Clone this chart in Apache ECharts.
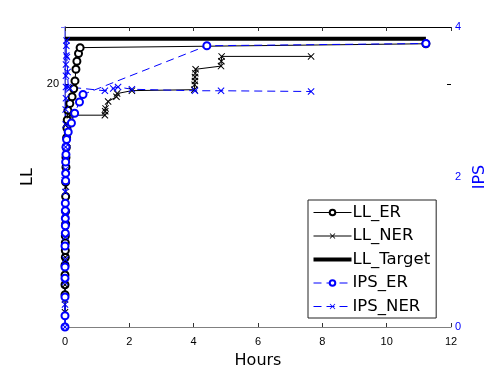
<!DOCTYPE html>
<html>
<head>
<meta charset="utf-8">
<script src="https://cdn.jsdelivr.net/npm/echarts@6/dist/echarts.min.js"></script>
<style>
  html, body { margin: 0; padding: 0; background: #fff; }
  #chart { width: 498px; height: 374px; }
</style>
</head>
<body>
<div id="chart"></div>
<script>
// values
var llErHours = [0, 0, 0, 0, 0.01, 0.01, 0.01, 0.01, 0.02, 0.02, 0.02, 0.02, 0.03, 0.03, 0.04, 0.05, 0.06, 0.07, 0.09, 0.15, 0.22, 0.27, 0.31, 0.34, 0.37, 0.42, 0.47, 11.22];
var llErValues = [11.33, 11.74, 12.14, 12.54, 12.87, 13.15, 13.47, 13.75, 14.24, 14.76, 15.37, 15.97, 16.58, 16.98, 17.39, 17.79, 18.19, 18.52, 18.92, 19.2, 19.48, 19.81, 20.13, 20.61, 20.94, 21.26, 21.5, 21.66];

var llNerHours = [0, 0, 0, 0.01, 0.01, 0.01, 0.02, 0.02, 0.03, 0.03, 0.04, 0.05, 0.07, 0.1, 0.15, 1.24, 1.25, 1.26, 1.34, 1.6, 1.62, 2.08, 4.02, 4.03, 4.04, 4.04, 4.05, 4.06, 4.85, 4.86, 4.87, 7.65];
var llNerValues = [10.61, 11.13, 11.74, 12.34, 12.87, 13.35, 13.96, 14.56, 15.17, 15.77, 16.38, 16.98, 17.59, 18.19, 18.72, 18.72, 18.88, 19.0, 19.28, 19.48, 19.61, 19.73, 19.77, 19.97, 20.13, 20.29, 20.45, 20.61, 20.74, 20.94, 21.14, 21.14];

var targetHours = [0, 11.22];
var targetValues = [21.87, 21.87];

var ipsErHours = [0, 0, 0, 0, 0, 0, 0.01, 0.01, 0.01, 0.01, 0.01, 0.02, 0.02, 0.02, 0.03, 0.03, 0.05, 0.1, 0.2, 0.3, 0.45, 0.56, 4.41, 11.22];
var ipsErValues = [0, 0.15, 0.4, 0.65, 0.8, 1.08, 1.25, 1.35, 1.45, 1.55, 1.65, 1.95, 2.05, 2.2, 2.3, 2.4, 2.5, 2.6, 2.72, 2.85, 3.0, 3.1, 3.75, 3.78];

var ipsNerHours = [0, 0, 0, 0.01, 0.01, 0.01, 0.01, 0.02, 0.02, 0.02, 0.02, 0.03, 0.03, 0.03, 0.03, 0.04, 0.04, 0.05, 0.06, 0.08, 0.1, 0.15, 1.24, 1.5, 1.65, 2.08, 4.04, 4.85, 7.65];
var ipsNerValues = [0, 0.3, 0.6, 0.9, 1.2, 1.5, 1.8, 2.1, 2.4, 2.7, 2.9, 3.05, 3.2, 3.35, 3.5, 3.62, 3.75, 3.82, 3.6, 3.4, 3.2, 3.18, 3.15, 3.18, 3.2, 3.17, 3.15, 3.15, 3.14];

var llTicks = [20];

function zip(xs, ys) {
  return xs.map(function (x, i) { return [x, ys[i]]; });
}

var FONT = 'Liberation Sans';
var TITLE_FONT = 'DejaVu Sans';
var BLUE = '#0000ff';
var CROSS = 'path://M0,1L1,0L5,4L9,0L10,1L6,5L10,9L9,10L5,6L1,10L0,9L4,5Z';
var THICK = 'path://M0,0H38V4H0Z';

var chart = echarts.init(document.getElementById('chart'));

chart.setOption({
  animation: false,
  textStyle: { fontFamily: FONT },
  grid: { left: 65, right: 47, top: 27, bottom: 41 },
  legend: {
    orient: 'vertical',
    left: 308,
    top: 200,
    padding: [4, 6, 3, 5],
    itemGap: 6.5,
    itemWidth: 38,
    itemHeight: 7,
    backgroundColor: '#fff',
    borderColor: '#222',
    borderWidth: 1,
    borderRadius: 0,
    lineStyle: { width: 1 },
    textStyle: { fontFamily: TITLE_FONT, fontSize: 16.5, color: '#000', padding: [0, 0, 0, -4] },
    data: ['LL_ER', 'LL_NER', { name: 'LL_Target', icon: THICK }, 'IPS_ER', 'IPS_NER']
  },
  xAxis: [
    {
      type: 'value',
      min: 0,
      max: 12,
      interval: 2,
      name: 'Hours',
      nameLocation: 'middle',
      nameGap: 26,
      nameTextStyle: { fontFamily: TITLE_FONT, fontSize: 16, color: '#000' },
      axisLine: { lineStyle: { color: '#808080' } },
      axisTick: { inside: true, length: 4, lineStyle: { color: '#333' } },
      axisLabel: { fontSize: 11, color: '#000', margin: 9 },
      splitLine: { show: false }
    },
    {
      type: 'value',
      position: 'top',
      min: 0,
      max: 12,
      interval: 2,
      axisLine: { lineStyle: { color: '#000' } },
      axisTick: { inside: true, length: 4, lineStyle: { color: '#333' } },
      axisLabel: { show: false },
      splitLine: { show: false }
    }
  ],
  yAxis: [
    {
      type: 'value',
      min: 10,
      max: 22.35,
      name: 'LL',
      nameLocation: 'middle',
      nameGap: 24,
      nameTextStyle: { fontFamily: TITLE_FONT, fontSize: 16, color: '#000' },
      axisLine: { show: true, lineStyle: { color: '#000' } },
      axisTick: { inside: true, length: 4, customValues: llTicks, lineStyle: { color: '#000' } },
      axisLabel: { fontSize: 11, color: '#000', customValues: llTicks, margin: 6 },
      splitLine: { show: false }
    },
    {
      type: 'value',
      min: 0,
      max: 4,
      interval: 2,
      position: 'right',
      name: 'IPS',
      nameLocation: 'middle',
      nameGap: 19,
      nameTextStyle: { fontFamily: TITLE_FONT, fontSize: 16, color: BLUE },
      axisLine: { show: true, lineStyle: { color: '#7070ff', width: 1.5 } },
      axisTick: { inside: true, length: 4, lineStyle: { color: '#7070ff' } },
      axisLabel: { fontSize: 11, color: BLUE, margin: 4 },
      splitLine: { show: false }
    },
    {
      type: 'value',
      min: 10,
      max: 22.35,
      position: 'right',
      axisLine: { show: false },
      axisTick: { inside: true, length: 4, customValues: llTicks, lineStyle: { color: '#000' } },
      axisLabel: { show: false },
      splitLine: { show: false }
    }
  ],
  series: [
    {
      name: 'LL_ER',
      type: 'line',
      yAxisIndex: 0,
      data: zip(llErHours, llErValues),
      symbol: 'emptyCircle',
      symbolSize: 7,
      showAllSymbol: true,
      lineStyle: { color: '#000', width: 1 },
      itemStyle: { color: '#000', borderWidth: 1 }
    },
    {
      name: 'LL_NER',
      type: 'line',
      yAxisIndex: 0,
      data: zip(llNerHours, llNerValues),
      symbol: CROSS,
      symbolSize: 7,
      showAllSymbol: true,
      lineStyle: { color: '#000', width: 1 },
      itemStyle: { color: '#000' }
    },
    {
      name: 'LL_Target',
      type: 'line',
      yAxisIndex: 0,
      data: zip(targetHours, targetValues),
      symbol: 'none',
      lineStyle: { color: '#000', width: 4 },
      itemStyle: { color: '#000' }
    },
    {
      name: 'IPS_ER',
      type: 'line',
      yAxisIndex: 1,
      data: zip(ipsErHours, ipsErValues),
      symbol: 'emptyCircle',
      symbolSize: 7,
      showAllSymbol: true,
      lineStyle: { color: BLUE, width: 1, type: [8, 5] },
      itemStyle: { color: BLUE, borderWidth: 1 }
    },
    {
      name: 'IPS_NER',
      type: 'line',
      yAxisIndex: 1,
      data: zip(ipsNerHours, ipsNerValues),
      symbol: CROSS,
      symbolSize: 7,
      showAllSymbol: true,
      lineStyle: { color: BLUE, width: 1, type: [8, 5] },
      itemStyle: { color: BLUE }
    }
  ]
});
</script>
</body>
</html>
